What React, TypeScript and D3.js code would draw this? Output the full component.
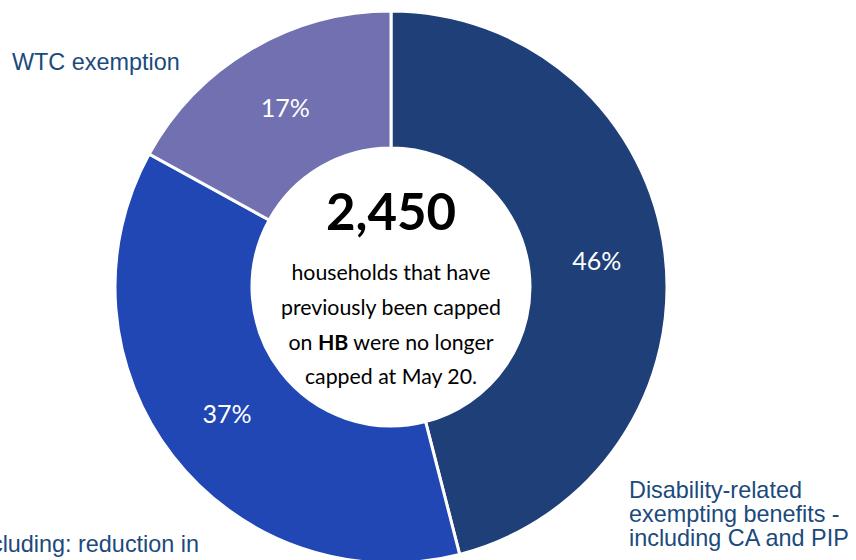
import React from "react";
import * as d3 from "d3";

const categories = [
  "Disability-related exempting benefits - including CA and PIP",
  "Other, including: reduction in",
  "WTC exemption",
];
const values = [46, 37, 17];
const colors = ["#1F3F78", "#2047B3", "#7170B0"];
const centerNumber = "2,450";

const W = 856;
const H = 560;
const cx = 391;
const cy = 287;
const outerR = 276;
const innerR = 139;

export default function App() {
  const pie = d3.pie<number>().sort(null).value((d) => d);
  const arcs = pie(values);
  const arc = d3.arc<d3.PieArcDatum<number>>().innerRadius(innerR).outerRadius(outerR);
  const calib = "Lato, 'Open Sans', sans-serif";
  const arial = "'Liberation Sans', Arial, sans-serif";
  const labelColor = "#1B4A7C";
  return (
    <svg
      width={W}
      height={H}
      style={{ position: "fixed", left: 0, top: 0, background: "#fff" }}
    >
      <g transform={`translate(${cx},${cy})`}>
        {arcs.map((a, i) => (
          <path key={i} d={arc(a) || ""} fill={colors[i]} stroke="#fff" strokeWidth={3} />
        ))}
        {arcs.map((a, i) => {
          const [x, y] = arc.centroid(a);
          return (
            <text
              key={"t" + i}
              x={x}
              y={y}
              dy="0.35em"
              textAnchor="middle"
              fill="#fff"
              fontFamily={calib}
              fontSize={25}
            >
              {values[i]}%
            </text>
          );
        })}
        <text x={0} y={-57} textAnchor="middle" fontFamily={calib} fontWeight={700} fontSize={51} fill="#000">
          {centerNumber}
        </text>
        <g fontFamily={calib} fontSize={21.3} fill="#000" textAnchor="middle">
          <text x={0} y={-7}>households that have</text>
          <text x={0} y={28}>previously been capped</text>
          <text x={0} y={63}>
            on <tspan fontWeight={700}>HB</tspan> were no longer
          </text>
          <text x={0} y={97}>capped at May 20.</text>
        </g>
      </g>
      <g fontFamily={arial} fontSize={23.4} fill={labelColor}>
        <text x={12} y={70}>{categories[2]}</text>
        <text x={199} y={552} textAnchor="end">{categories[1]}</text>
        <text x={629} y={498}>Disability-related</text>
        <text x={629} y={522}>exempting benefits -</text>
        <text x={629} y={546}>including CA and PIP</text>
      </g>
    </svg>
  );
}
